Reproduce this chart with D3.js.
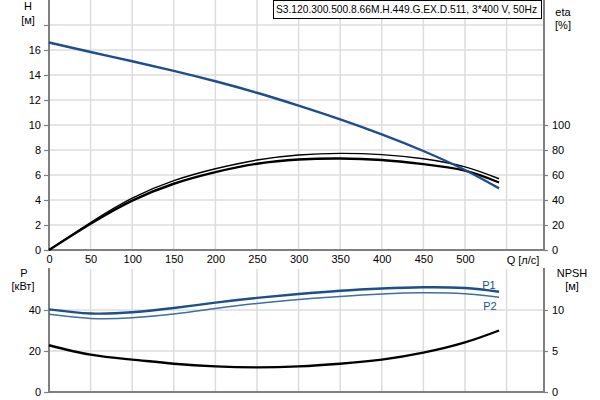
<!DOCTYPE html>
<html><head><meta charset="utf-8">
<script src="https://cdn.jsdelivr.net/npm/d3@7"></script>
<style>
body{margin:0;background:#fff;}
svg{display:block;font-family:"Liberation Sans",Arial,sans-serif;}
</style></head>
<body><svg id="c" width="600" height="400"></svg>
<script>
// ---- data ----
const flowQ   = [0, 50, 100, 150, 200, 250, 300, 350, 400, 450, 500, 541];
const headH   = [16.6, 15.84, 15.1, 14.33, 13.5, 12.58, 11.55, 10.45, 9.25, 7.92, 6.4, 4.93];
const etaThin = [0, 22, 41.5, 55.5, 65, 72, 76, 77.3, 76.3, 73, 66.5, 57];
const etaBold = [0, 21, 39.5, 53, 62.3, 69, 72.4, 73.2, 72, 68.7, 63.5, 54];
const powerP1 = [40.3, 38.3, 38.9, 41, 43.6, 45.9, 47.8, 49.4, 50.5, 51.1, 50.7, 48.9];
const powerP2 = [37.9, 35.9, 36.2, 38, 40.7, 43.2, 45.1, 46.6, 47.8, 48.4, 47.9, 46.2];
const npshR   = [5.7, 4.55, 3.95, 3.45, 3.12, 3.0, 3.12, 3.45, 3.95, 4.8, 6.05, 7.5];
const qTicks  = [0, 50, 100, 150, 200, 250, 300, 350, 400, 450, 500];
const qGrid   = [50, 100, 150, 200, 250, 300, 350, 400, 450, 500, 550];
const hTicks  = [0, 2, 4, 6, 8, 10, 12, 14, 16, 18];
const etaTicks = [0, 20, 40, 60, 80, 100];
const pTicks  = [0, 20, 40];
const nTicks  = [0, 5, 10];
const title   = "S3.120.300.500.8.66M.H.449.G.EX.D.511, 3*400 V, 50Hz";

const svg = d3.select("#c");
const L = 49, R = 544;
const x = d3.scaleLinear().domain([0, 595]).range([L, R]);
const yH = d3.scaleLinear().domain([0, 20]).range([250, 0]);
const yEta = d3.scaleLinear().domain([0, 200]).range([250, 0]);
const yP = d3.scaleLinear().domain([0, 60]).range([392, 269]);
const yN = d3.scaleLinear().domain([0, 15]).range([392, 269]);

const gridC = "#dcdcdc", axisC = "#7f7f7f", blue = "#1c4f8c";

// grids
const g = svg.append("g");
g.selectAll(".vt").data(qGrid).join("line")
  .attr("x1", d => x(d)).attr("x2", d => x(d)).attr("y1", 0).attr("y2", 250)
  .attr("stroke", gridC).attr("stroke-width", 1.5);
g.selectAll(".vb").data(qGrid).join("line")
  .attr("x1", d => x(d)).attr("x2", d => x(d)).attr("y1", 269).attr("y2", 392)
  .attr("stroke", gridC).attr("stroke-width", 1.5);
g.selectAll(".ht").data(hTicks.filter(d => d > 0)).join("line")
  .attr("x1", L).attr("x2", R).attr("y1", d => yH(d)).attr("y2", d => yH(d))
  .attr("stroke", gridC).attr("stroke-width", 1.5);
g.selectAll(".hb").data(pTicks.filter(d => d > 0)).join("line")
  .attr("x1", L).attr("x2", R).attr("y1", d => yP(d)).attr("y2", d => yP(d))
  .attr("stroke", gridC).attr("stroke-width", 1.5);

// axes
function styleAxis(sel) {
  sel.select(".domain").remove();
  sel.selectAll(".tick line").attr("stroke", axisC).attr("stroke-width", 1.2);
  sel.selectAll(".tick text").attr("font-size", 11).attr("fill", "#000")
    .attr("font-family", "Liberation Sans, Arial, sans-serif");
}
svg.append("g").attr("transform", `translate(${L},0)`)
  .call(d3.axisLeft(yH).tickValues(hTicks).tickSize(5).tickPadding(3)
    .tickFormat(d => d === 18 ? "" : d)).call(styleAxis);
svg.append("g").attr("transform", `translate(${R},0)`)
  .call(d3.axisRight(yEta).tickValues(etaTicks).tickSize(4).tickPadding(4)).call(styleAxis);
svg.append("g").attr("transform", `translate(0,250)`)
  .call(d3.axisBottom(x).tickValues(qTicks).tickSize(0).tickPadding(5)).call(styleAxis);
svg.append("g").attr("transform", `translate(${L},0)`)
  .call(d3.axisLeft(yP).tickValues(pTicks).tickSize(5).tickPadding(3)).call(styleAxis);
svg.append("g").attr("transform", `translate(${R},0)`)
  .call(d3.axisRight(yN).tickValues(nTicks).tickSize(4).tickPadding(4)).call(styleAxis);

// axis lines
const al = svg.append("g").attr("stroke", axisC).attr("stroke-width", 2);
al.append("line").attr("x1", L).attr("x2", L).attr("y1", 0).attr("y2", 251);
al.append("line").attr("x1", R).attr("x2", R).attr("y1", 0).attr("y2", 251);
al.append("line").attr("x1", L).attr("x2", R).attr("y1", 250).attr("y2", 250);
al.append("line").attr("x1", L).attr("x2", L).attr("y1", 268).attr("y2", 393);
al.append("line").attr("x1", R).attr("x2", R).attr("y1", 268).attr("y2", 393);
al.append("line").attr("x1", L).attr("x2", R).attr("y1", 392).attr("y2", 392);

// curves
function draw(vals, ys, color, w) {
  const line = d3.line().x((d, i) => x(flowQ[i])).y(d => ys(d)).curve(d3.curveNatural);
  svg.append("path").datum(vals).attr("d", line).attr("fill", "none")
    .attr("stroke", color).attr("stroke-width", w).attr("stroke-linejoin", "round");
}
draw(etaBold, yEta, "#000", 2.4);
draw(etaThin, yEta, "#000", 1.4);
draw(headH, yH, blue, 2.4);
draw(npshR, yN, "#000", 2.4);
draw(powerP2, yP, "#3d6fa6", 1.5);
draw(powerP1, yP, blue, 2.4);

// labels
function txt(t, xx, yy, anchor, size, fill) {
  return svg.append("text").attr("x", xx).attr("y", yy).attr("text-anchor", anchor || "middle")
    .attr("font-size", size || 11).attr("fill", fill || "#000").text(t);
}
txt("H", 28, 10);
txt("[м]", 28, 24);
txt("eta", 563, 16);
txt("[%]", 563, 29);
txt("Q [л/с]", 523, 264);
txt("P", 24, 277);
txt("[кВт]", 23, 290);
txt("NPSH", 572, 277);
txt("[м]", 572, 290);
txt("P1", 489, 289, "middle", 11, blue);
txt("P2", 490, 310, "middle", 11, blue);

// title box
svg.append("rect").attr("x", 273.5).attr("y", 0.5).attr("width", 268).attr("height", 18)
  .attr("fill", "#fff").attr("stroke", "#000").attr("stroke-width", 1);
txt(title, 276, 13, "start", 11).attr("textLength", 261).attr("lengthAdjust", "spacingAndGlyphs");
</script></body></html>
